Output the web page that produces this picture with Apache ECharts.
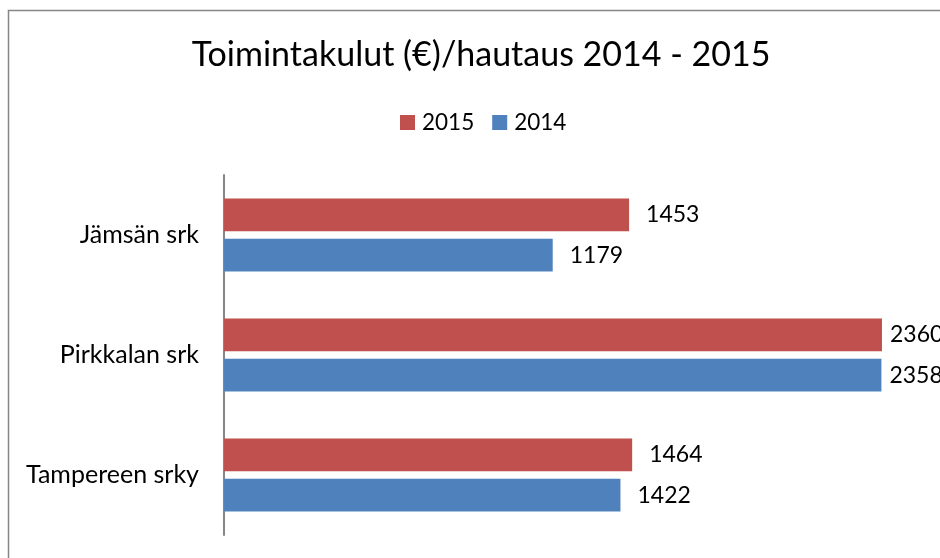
<!DOCTYPE html>
<html>
<head>
<meta charset="utf-8">
<script src="https://cdn.jsdelivr.net/npm/echarts@6/dist/echarts.min.js"></script>
<style>html,body{margin:0;padding:0;background:#fff;}#c{width:940px;height:558px;}</style>
</head>
<body>
<div id="c"></div>
<script>
const categories = ['Jämsän srk', 'Pirkkalan srk', 'Tampereen srky'];
const values2015 = [1453, 2360, 1464];
const values2014 = [1179, 2358, 1422];
const seriesNames = ['2015', '2014'];
const titleText = 'Toimintakulut (€)/hautaus 2014 - 2015';

const FONT = 'Lato';
const chart = echarts.init(document.getElementById('c'));
function mk(vals) {
  return vals.map(function (v, i) {
    return { value: v, label: { distance: i === 1 ? 8 : 17 } };
  });
}
const lbl = { show: true, position: 'right', color: '#000', fontFamily: FONT, fontSize: 23 };
chart.setOption({
  animation: false,
  textStyle: { fontFamily: FONT },
  graphic: [{
    type: 'rect', silent: true,
    shape: { x: 8.5, y: 10.5, width: 1200, height: 1200 },
    style: { fill: 'none', stroke: '#868686', lineWidth: 1.5 }
  }],
  title: {
    text: titleText, left: 476, textAlign: 'center', top: 33,
    textStyle: { fontFamily: FONT, fontSize: 34, fontWeight: 'normal', color: '#000' }
  },
  legend: {
    data: seriesNames, left: 395, top: 106,
    icon: 'rect', itemWidth: 15, itemHeight: 15, itemGap: 18,
    textStyle: { fontFamily: FONT, fontSize: 22.5, color: '#000', padding: [0, 0, 0, 2] }
  },
  grid: { left: 224, top: 175, right: 19, bottom: 23, containLabel: false },
  xAxis: {
    type: 'value', min: 0, max: 2500,
    axisLine: { show: false }, axisTick: { show: false },
    axisLabel: { show: false }, splitLine: { show: false }
  },
  yAxis: {
    type: 'category', data: categories, inverse: true,
    axisLine: { show: true, lineStyle: { color: '#868686', width: 2 } },
    axisTick: { show: false },
    axisLabel: { color: '#000', fontFamily: FONT, fontSize: 25, margin: 25 }
  },
  series: [
    { name: seriesNames[0], type: 'bar', data: mk(values2015), itemStyle: { color: '#C0504D' },
      barGap: '22%', barCategoryGap: '39%', label: lbl },
    { name: seriesNames[1], type: 'bar', data: mk(values2014), itemStyle: { color: '#4F81BD' },
      barGap: '22%', barCategoryGap: '39%', label: lbl }
  ]
});
</script>
</body>
</html>
